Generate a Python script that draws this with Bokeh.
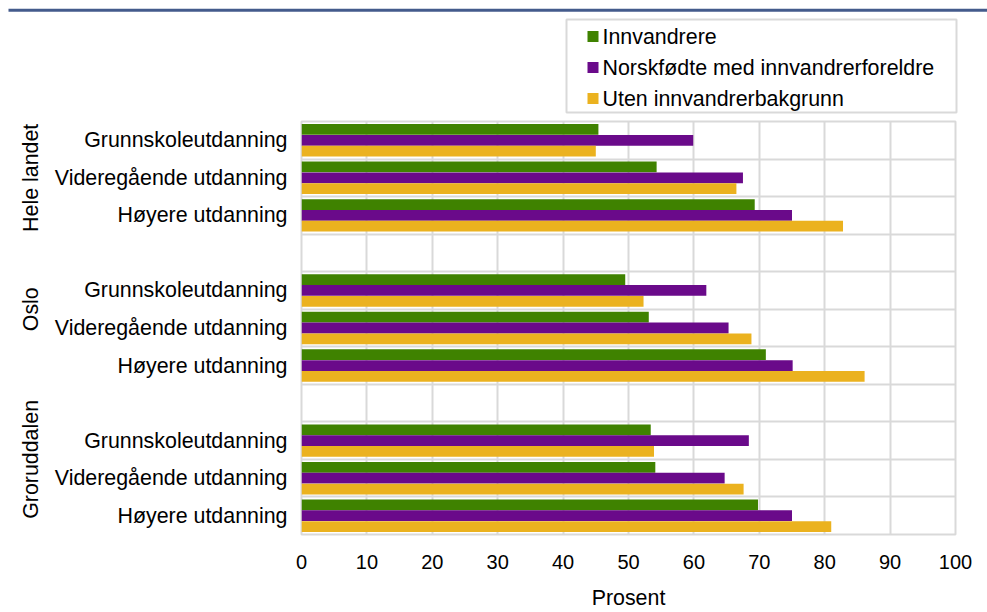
from bokeh.plotting import figure
from bokeh.layouts import column
from bokeh.models import Range1d, FixedTicker, LinearAxis, Grid
from bokeh.core.properties import value
from bokeh.embed import file_html
from bokeh.resources import INLINE

# ---- data ----
groups = ["Hele landet", "Oslo", "Groruddalen"]
levels = ["Grunnskoleutdanning", "Videregående utdanning", "Høyere utdanning"]
series = ["Innvandrere", "Norskfødte med innvandrerforeldre", "Uten innvandrerbakgrunn"]
colors = ["#3f8200", "#6a0a8a", "#ebb21f"]

# order: Hele landet (3 levels), Oslo (3 levels), Groruddalen (3 levels)
innvandrere = [45.4, 54.3, 69.3, 49.5, 53.1, 71.0, 53.4, 54.1, 69.8]
norskfodte = [59.9, 67.5, 75.0, 61.9, 65.3, 75.1, 68.4, 64.7, 75.0]
uten = [45.0, 66.5, 82.8, 52.3, 68.8, 86.1, 53.9, 67.6, 81.0]
values = [innvandrere, norskfodte, uten]

x_ticks = [0, 10, 20, 30, 40, 50, 60, 70, 80, 90, 100]
x_label = "Prosent"

FONT = "Liberation Sans"
FS = "21.4px"
GRID = "#d9d9d9"
W = 987
TOP_H = 119
MAIN_H = 612 - TOP_H

# ---------- top strip: rule line + legend ----------
lf = figure(width=W, height=TOP_H, output_backend="svg", toolbar_location=None,
            x_range=Range1d(0, W), y_range=Range1d(TOP_H, 0),
            x_axis_type=None, y_axis_type=None, min_border=0)
lf.frame_align = False
lf.outline_line_color = None
lf.grid.visible = False
lf.background_fill_color = "white"
lf.border_fill_color = "white"

# blue rule
lf.quad(left=[8], right=[W], top=[8.3], bottom=[11.2], fill_color="#445b8c", line_color=None)
# legend box
lf.quad(left=[566], right=[956], top=[19], bottom=[112], fill_alpha=0,
        line_color=GRID, line_width=2)
row_y = [36, 67, 98]
sq = 11
lf.quad(left=[587] * 3, right=[587 + sq] * 3,
        top=[y - sq / 2 for y in row_y], bottom=[y + sq / 2 for y in row_y],
        fill_color=colors, line_color=None)
lf.text(x=[602] * 3, y=row_y, text=series, text_font=value(FONT),
        text_font_size=FS, text_baseline="middle", text_align="left",
        text_color="black")

# ---------- main chart ----------
slots = []
labels = {}
for g in range(len(groups)):
    for c in range(len(levels)):
        s = g * (len(levels) + 1) + c
        slots.append(s)
        labels[s] = levels[c]
n_slots = len(groups) * (len(levels) + 1) - 1
group_centers = {}
for g in range(len(groups)):
    start = g * (len(levels) + 1) - (1 if g > 0 else 0)
    end = g * (len(levels) + 1) + len(levels) - 1
    group_centers[(start + end) / 2] = groups[g]

p = figure(width=W, height=MAIN_H, output_backend="svg", toolbar_location=None,
           x_range=Range1d(0, 100), y_range=Range1d(n_slots - 0.5, -0.5),
           min_border_left=301, min_border_right=32, min_border_top=2,
           min_border_bottom=77)
p.frame_align = False
p.background_fill_color = "white"
p.border_fill_color = "white"
p.outline_line_color = GRID
p.outline_line_width = 2

bar_h = 0.287
offs = [-0.289, 0.0, 0.289]
for k in range(len(series)):
    ys = [s + offs[k] for s in slots]
    p.hbar(y=ys, left=0, right=values[k], height=bar_h,
           fill_color=colors[k], line_color=None)

# grids
p.xgrid.ticker = FixedTicker(ticks=x_ticks)
p.xgrid.grid_line_color = GRID
p.xgrid.grid_line_width = 2
p.ygrid.visible = False
p.add_layout(Grid(dimension=1, ticker=FixedTicker(ticks=[i + 0.5 for i in range(n_slots - 1)]),
                  grid_line_color=GRID, grid_line_width=2))

# x axis
xa = p.xaxis[0]
xa.ticker = FixedTicker(ticks=x_ticks)
xa.axis_line_color = None
xa.major_tick_line_color = None
xa.major_tick_out = 0
xa.major_tick_in = 0
xa.minor_tick_line_color = None
xa.major_label_standoff = 20
xa.major_label_text_font = FONT
xa.major_label_text_font_size = "20px"
xa.major_label_text_color = "black"
xa.axis_label = x_label
xa.axis_label_text_font = FONT
xa.axis_label_text_font_size = FS
xa.axis_label_text_font_style = "normal"
xa.axis_label_text_color = "black"
xa.axis_label_standoff = 14

# y axis (levels)
ya = p.yaxis[0]
ya.ticker = FixedTicker(ticks=slots)
ya.major_label_overrides = labels
ya.axis_line_color = None
ya.major_tick_line_color = None
ya.major_tick_out = 0
ya.major_tick_in = 0
ya.minor_tick_line_color = None
ya.major_label_standoff = 14
ya.major_label_text_font = FONT
ya.major_label_text_font_size = FS
ya.major_label_text_color = "black"

# group axis
ga = LinearAxis(ticker=FixedTicker(ticks=list(group_centers.keys())),
                major_label_overrides=group_centers,
                major_label_orientation="vertical")
ga.axis_line_color = None
ga.major_tick_line_color = None
ga.major_tick_out = 0
ga.major_tick_in = 0
ga.minor_tick_line_color = None
ga.major_label_standoff = 8
ga.major_label_text_font = FONT
ga.major_label_text_font_size = FS
ga.major_label_text_color = "black"
p.add_layout(ga, "left")

layout = column(lf, p, spacing=0)
open("out.html", "w").write(file_html(layout, INLINE))
